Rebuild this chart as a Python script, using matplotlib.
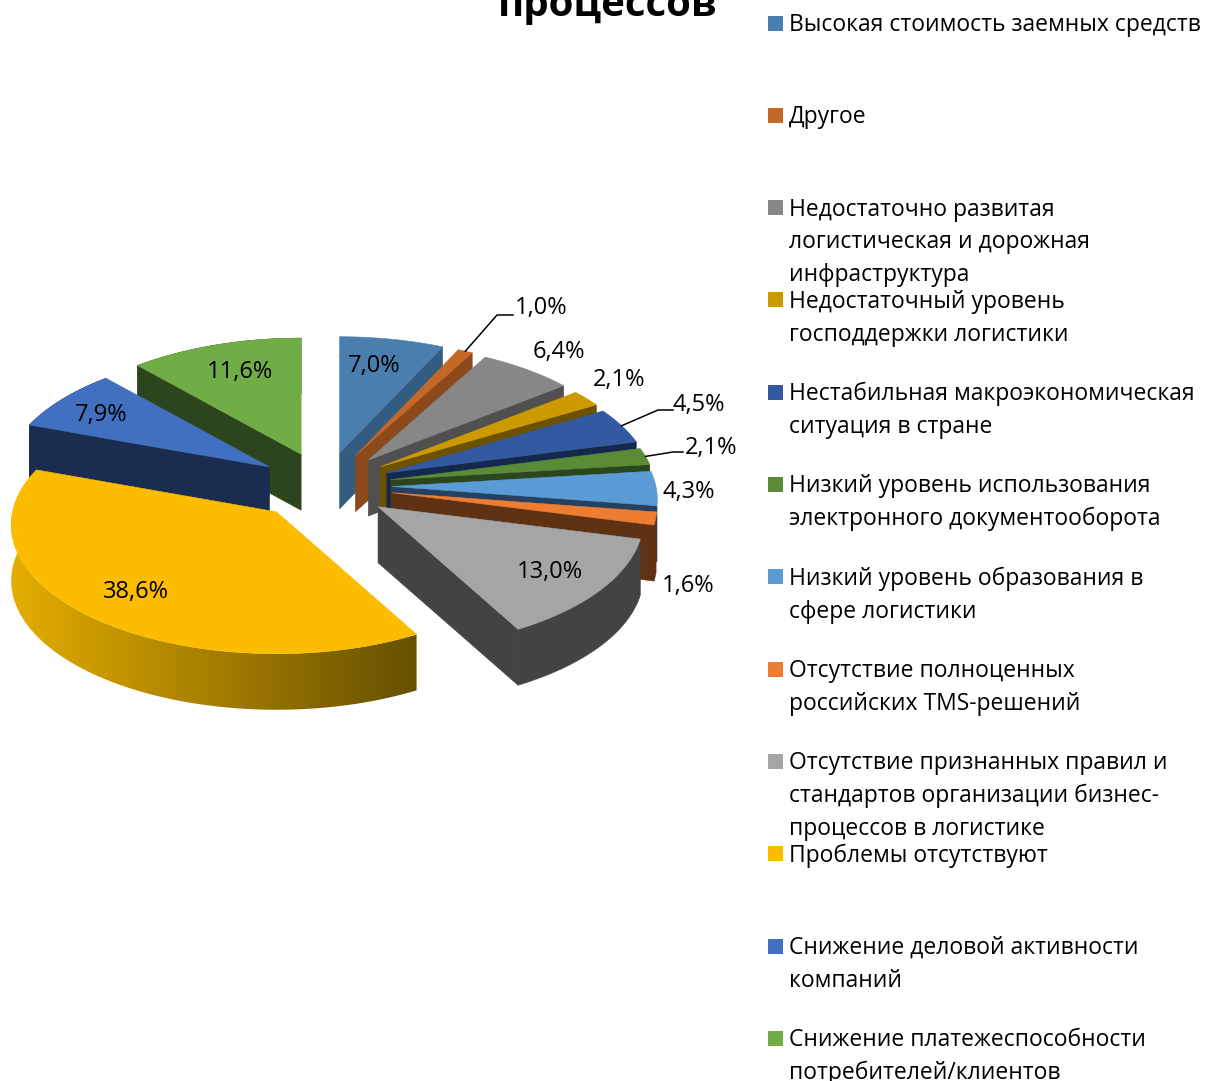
"""
Exploded 3D pie chart with a legend on the right, drawn in pixel coordinates
"""

import math
import numpy as np
import matplotlib
matplotlib.use('Agg')
import matplotlib.pyplot as plt
from matplotlib.colors import LinearSegmentedColormap
from matplotlib.patches import Polygon, Rectangle

plt.rcParams['font.family'] = ['Open Sans', 'DejaVu Sans']

categories = [
    'Высокая стоимость заемных средств',
    'Другое',
    'Недостаточно развитая\nлогистическая и дорожная\nинфраструктура',
    'Недостаточный уровень\nгосподдержки логистики',
    'Нестабильная макроэкономическая\nситуация в стране',
    'Низкий уровень использования\nэлектронного документооборота',
    'Низкий уровень образования в\nсфере логистики',
    'Отсутствие полноценных\nроссийских TMS-решений',
    'Отсутствие признанных правил и\nстандартов организации бизнес-\nпроцессов в логистике',
    'Проблемы отсутствуют',
    'Снижение деловой активности\nкомпаний',
    'Снижение платежеспособности\nпотребителей/клиентов',
]
values = [7.0, 1.0, 6.4, 2.1, 4.5, 2.1, 4.3, 1.6, 13.0, 38.6, 7.9, 11.6]
value_labels = ['7,0%', '1,0%', '6,4%', '2,1%', '4,5%', '2,1%', '4,3%', '1,6%', '13,0%', '38,6%', '7,9%', '11,6%']

top_colors = ['#4a7eae', '#c46828', '#878787', '#cc9a00', '#3359a0', '#5a8c38',
              '#5b9bd5', '#ed7d31', '#a5a5a5', '#fcbc00', '#4170c0', '#70ad47']
wall_colors = ['#325c80', '#8c4a1c', '#505050', '#6b5100', '#15294f', '#2b451c',
               '#24425f', '#5f3213', '#434343', '#e0aa00', '#1a2c50', '#2d451d']

# label centres in pixels
label_pos = [(374, 366), (541, 308), (559, 352), (619, 380), (699, 405), (711, 448),
             (689, 492), (688, 586), (550, 572), (136, 592), (101, 415), (240, 372)]

# projection of the pie, fitted on the picture
CX, CY = 325, 486
EXPLODE_X, EXPLODE_Y = 67, 34
RX, RY = 264, 127.7
PERSP = 0.1
DEPTH = 56
YELLOW = 9
# small sideways corrections, the simple projection is a few pixels off here
slice_shift = {YELLOW: -5, 7: 1}

yellow_wall = LinearSegmentedColormap.from_list('yellow_wall', ['#e4ad00', '#665000'])


def apex_of(index, mid):
    shift = slice_shift.get(index, 0)
    return (CX + shift + EXPLODE_X * math.sin(mid), CY - EXPLODE_Y * math.cos(mid))


def rim_point(apex, angle):
    s = 1 + PERSP * math.cos(angle)
    return (apex[0] + RX * math.sin(angle) / s, apex[1] - RY * math.cos(angle) / s)


def down(p):
    return (p[0], p[1] + DEPTH)


def fill(ax, pts, color):
    ax.add_patch(Polygon(pts, closed=True, facecolor=color, edgecolor=color, linewidth=0.4))


def draw_slice(ax, index, start, end):
    top_color, wall_color = top_colors[index], wall_colors[index]
    mid = (start + end) / 2
    apex = apex_of(index, mid)
    n = max(3, int(math.degrees(end - start) / 1.5))
    angles = [start + (end - start) * i / n for i in range(n + 1)]
    rim = [rim_point(apex, a) for a in angles]

    # cut face that looks towards the viewer
    if end <= math.pi:
        fill(ax, [apex, rim[-1], down(rim[-1]), down(apex)], wall_color)
    elif start >= math.pi:
        fill(ax, [apex, rim[0], down(rim[0]), down(apex)], wall_color)

    # outer wall, only the front part shows
    front = [p for a, p in zip(angles, rim) if math.cos(a) < -0.15 or a > math.pi]
    if index == YELLOW:
        # the big slice has a horizontal gradient on its wall
        wall = Polygon(front + [down(p) for p in reversed(front)], closed=True,
                       facecolor='none', edgecolor='none')
        ax.add_patch(wall)
        xs = [p[0] for p in front]
        img = ax.imshow(np.linspace(0, 1, 256).reshape(1, -1), cmap=yellow_wall,
                        extent=(min(xs), max(xs), 720, 460),
                        aspect='auto', zorder=1)
        img.set_clip_path(wall)
    elif len(front) > 1:
        fill(ax, front + [down(p) for p in reversed(front)], wall_color)

    fill(ax, [apex] + rim, top_color)


def main():
    fig = plt.figure(figsize=(12.08, 10.81), dpi=100)
    ax = fig.add_axes([0, 0, 1, 1])

    total = sum(values)
    edges = [0]
    for v in values:
        edges.append(edges[-1] + v / total * 2 * math.pi)

    # painter's order: left side back to front, then right side clockwise
    order = [11, 10, 9, 0, 1, 2, 3, 4, 5, 6, 7, 8]
    for i in order:
        draw_slice(ax, i, edges[i], edges[i + 1])

    ax.set_xlim(0, 1208)
    ax.set_ylim(1081, 0)
    ax.axis('off')

    # leader lines for the thin slices: (elbow, end of the line) left of the label, height below it
    leaders = {1: (44, 28, 7), 4: (41, 26, 5), 5: (38, 28, 4)}
    for i, (elbow, end, below) in leaders.items():
        mid = (edges[i] + edges[i + 1]) / 2
        start = rim_point(apex_of(i, mid), mid)
        lx, ly = label_pos[i]
        ax.plot([start[0], lx - elbow, lx - end], [start[1], ly + below, ly + below],
                color='black', linewidth=1.1)

    for i, txt in enumerate(value_labels):
        ax.text(label_pos[i][0], label_pos[i][1], txt, ha='center', va='center',
                fontsize=17, color='black')

    # legend
    for i, name in enumerate(categories):
        y = 23 + i * 92.3
        ax.add_patch(Rectangle((768, y - 7.5), 15, 15, facecolor=top_colors[i], edgecolor='none'))
        for j, line in enumerate(name.split('\n')):
            ax.text(789, y + 8 + j * 32.8, line, ha='left', va='baseline', fontsize=16.5, color='black')

    # the chart title is cut by the top of the picture
    ax.text(608, 16, 'процессов', ha='center', va='baseline', fontsize=29,
            fontweight='bold', color='black')

    fig.savefig('out.png', dpi=100)
    plt.close(fig)


if __name__ == "__main__":
    main()
